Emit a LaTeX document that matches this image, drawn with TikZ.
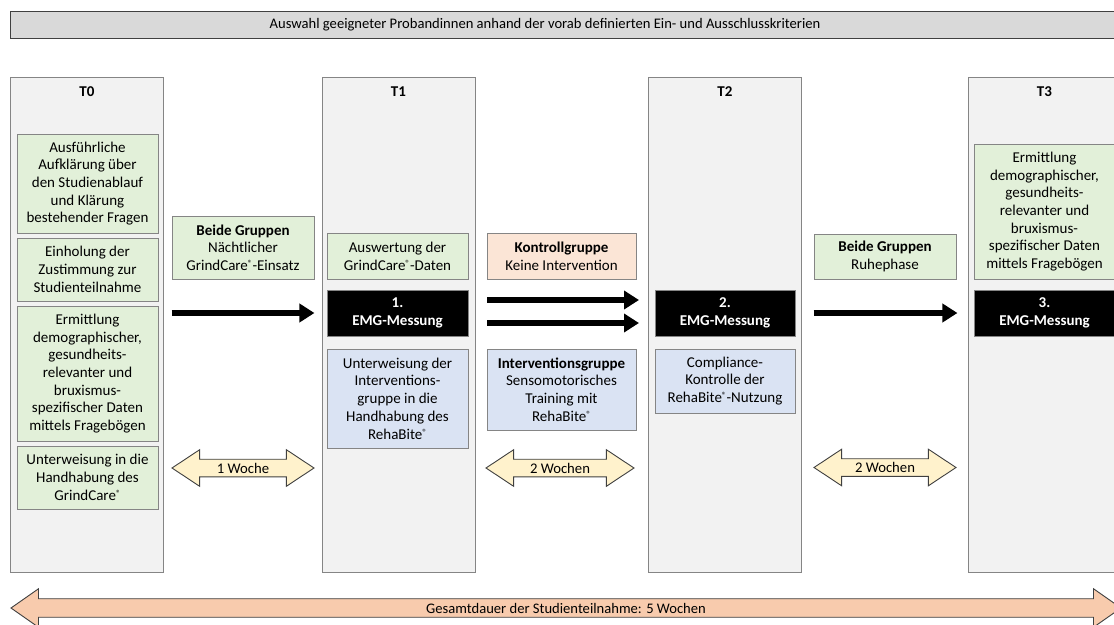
\documentclass[tikz,border=0pt]{standalone}
\usepackage{fontspec}
\setmainfont{Carlito}
\usetikzlibrary{arrows.meta,shapes.arrows}
\definecolor{colfill}{HTML}{F2F2F2}
\definecolor{frame}{HTML}{858585}
\definecolor{darkline}{HTML}{404040}
\definecolor{bannerfill}{HTML}{D9D9D9}
\definecolor{greenlite}{HTML}{E2F0D9}
\definecolor{bluelite}{HTML}{DAE3F3}
\definecolor{peach}{HTML}{FBE5D6}
\definecolor{weekfill}{HTML}{FFF2CC}
\definecolor{totalfill}{HTML}{F8CBAD}
\newcommand\regmark{\raisebox{0.55ex}{\fontsize{9}{9}\selectfont ®}}

\begin{document}
\begin{tikzpicture}[x=1pt,y=-1pt,
  every node/.style={font=\fontsize{15}{17.7}\selectfont,align=center,inner sep=0pt},
  phase/.style={draw=frame,fill=colfill,line width=0.9pt,minimum width=153pt,minimum height=495pt},
  box/.style={draw=frame,line width=0.9pt,minimum width=141pt},
  gbox/.style={box,fill=greenlite},
  bbox/.style={box,fill=bluelite},
  obox/.style={box,fill=peach},
  emg/.style={draw=frame,fill=black,text=white,font=\fontsize{15}{17.5}\selectfont\bfseries,minimum width=141pt,minimum height=46pt},
  flow/.style={line width=6pt,-{Triangle[length=15pt,width=18pt]}},
  span/.style={double arrow,draw=darkline,fill=weekfill,line width=0.9pt,inner xsep=0pt,inner ysep=3.2pt,double arrow head extend=9.5pt,double arrow tip angle=67,minimum width=36pt,font=\fontsize{14.7}{16}\selectfont}
]
\useasboundingbox (0,0) rectangle (1114,624);
\clip (0,0) rectangle (1114,624);

% selection banner
\node[draw=darkline,fill=bannerfill,line width=0.9pt,minimum width=1112pt,minimum height=27pt] (sel) at (566,24.5) {};
\node[font=\fontsize{14.6}{16}\selectfont] (seltext) at (545,24.5) {Auswahl geeigneter Probandinnen anhand der vorab definierten Ein- und Ausschlusskriterien};

% time points
\node[phase] (p0) at (87,324.5) {};
\node[phase] (p1) at (398.5,324.5) {};
\node[phase] (p2) at (725,324.5) {};
\node[phase] (p3) at (1044.5,324.5) {};
\foreach \x/\lab in {87/T0,398.5/T1,725/T2,1044.5/T3}
  \node[font=\fontsize{15}{17}\selectfont\bfseries] (lab\lab) at (\x,92) {\lab};

% T0
\node[gbox,minimum height=99pt] (info) at (87.5,183.5) {Ausführliche\\Aufklärung über\\den Studienablauf\\und Klärung\\bestehender Fragen};
\node[gbox,minimum height=63pt] (consent) at (87.5,269.5) {Einholung der\\Zustimmung zur\\Studienteilnahme};
\node[gbox,minimum height=135pt] (survey0) at (87.5,373.5) {Ermittlung\\demographischer,\\gesundheits-\\relevanter und\\bruxismus-\\spezifischer Daten\\mittels Fragebögen};
\node[gbox,minimum height=63pt] (gcinst) at (87.5,477.5) {Unterweisung in die\\Handhabung des\\GrindCare\regmark};

% T0 -> T1
\node[gbox,minimum width=142pt,minimum height=63pt] (both1) at (243,247.5) {\textbf{Beide Gruppen}\\Nächtlicher\\GrindCare\regmark-Einsatz};
\node[span,minimum height=142pt] (week1) at (243,468) {1 Woche};

% T1
\node[gbox,minimum height=46pt] (gceval) at (397.5,256) {Auswertung der\\GrindCare\regmark-Daten};
\node[emg] (emg1) at (397.5,313) {1.\\EMG-Messung};
\node[bbox,minimum height=99pt] (rbinst) at (397.5,398.5) {Unterweisung der\\Interventions-\\gruppe in die\\Handhabung des\\RehaBite\regmark};

% T1 -> T2
\node[obox,minimum width=149pt,minimum height=46pt] (ctrl) at (561.5,256) {\textbf{Kontrollgruppe}\\Keine Intervention};
\node[bbox,minimum width=149pt,minimum height=81pt] (interv) at (561.5,389.5) {\textbf{Interventionsgruppe}\\Sensomotorisches\\Training mit\\RehaBite\regmark};
\node[span,minimum height=148pt] (week2) at (560,468) {2 Wochen};

% T2
\node[emg,minimum width=140pt] (emg2) at (725,313) {2.\\EMG-Messung};
\node[bbox,minimum width=140pt,minimum height=64pt] (compl) at (725,381) {Compliance-\\Kontrolle der\\RehaBite\regmark-Nutzung};

% T2 -> T3
\node[gbox,minimum width=142pt,minimum height=45pt] (both2) at (885,256.5) {\textbf{Beide Gruppen}\\Ruhephase};
\node[span,minimum height=142pt] (week3) at (885,467.5) {2 Wochen};

% T3
\node[gbox,minimum width=140pt,minimum height=135pt] (survey3) at (1044.5,211.5) {Ermittlung\\demographischer,\\gesundheits-\\relevanter und\\bruxismus-\\spezifischer Daten\\mittels Fragebögen};
\node[emg,minimum width=140pt] (emg3) at (1044.5,313) {3.\\EMG-Messung};

% flow arrows
\coordinate (ctrlin) at (487,300);
\coordinate (ctrlout) at (639,300);
\coordinate (intin) at (487,323);
\coordinate (intout) at (639,323);
\draw[flow] (both1.west |- emg1) -- (both1.east |- emg1);
\draw[flow] (ctrlin) -- (ctrlout);
\draw[flow] (intin) -- (intout);
\draw[flow] (both2.west |- emg2) -- ([xshift=1pt]both2.east |- emg2);

% total duration
\node[span,fill=totalfill,minimum height=1110pt,minimum width=38pt,inner ysep=3.7pt,double arrow head extend=10pt,double arrow tip angle=70,font=\fontsize{14.6}{16}\selectfont] (total) at (566,608) {Gesamtdauer der Studienteilnahme: 5 Wochen};
\end{tikzpicture}
\end{document}
